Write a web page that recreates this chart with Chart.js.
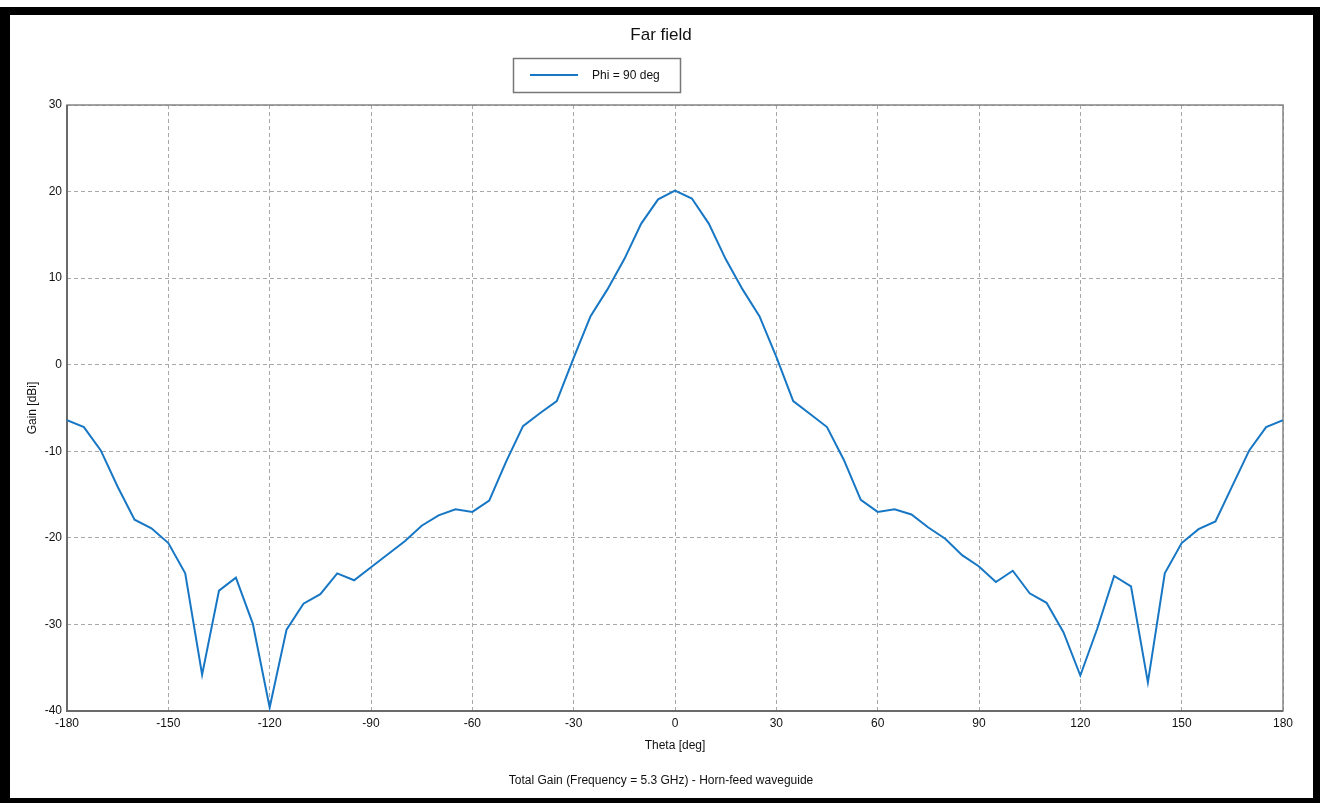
<!DOCTYPE html>
<html>
<head>
<meta charset="utf-8">
<title>Far field</title>
<script src="https://cdn.jsdelivr.net/npm/chart.js@4.4.1/dist/chart.umd.min.js"></script>
<style>
    html, body { margin: 0; padding: 0; background: #fff; }
    #wrap { position: relative; width: 1322px; height: 803px; overflow: hidden; }
    #chart { position: absolute; left: 0; top: 0; }
    #frame {
        position: absolute; left: 0; top: 7px; width: 1303px; height: 783px;
        border-left: 10px solid #000; border-top: 8px solid #000;
        border-right: 7px solid #000; border-bottom: 5px solid #000;
        pointer-events: none;
    }
</style>
</head>
<body>
<div id="wrap">
    <canvas id="chart" width="1322" height="803"></canvas>
    <div id="frame"></div>
</div>
<script>
// Theta [deg]
const theta = [
    -180, -175, -170, -165, -160, -155, -150, -145, -140, -135, -130, -125,
    -120, -115, -110, -105, -100, -95, -90, -85, -80, -75, -70, -65,
    -60, -55, -50, -45, -40, -35, -30, -25, -20, -15, -10, -5,
    0, 5, 10, 15, 20, 25, 30, 35, 40, 45, 50, 55,
    60, 65, 70, 75, 80, 85, 90, 95, 100, 105, 110, 115,
    120, 125, 130, 135, 140, 145, 150, 155, 160, 165, 170, 175,
    180
];

// Gain [dBi], phi = 90 deg
const gainPhi90 = [
    -6.4, -7.2, -9.9, -14.1, -17.9, -18.9, -20.6, -24.1, -35.8, -26.1, -24.6, -29.9,
    -39.6, -30.6, -27.6, -26.5, -24.1, -24.9, -23.4, -21.9, -20.4, -18.6, -17.4, -16.7,
    -17.0, -15.7, -11.2, -7.1, -5.6, -4.2, 0.8, 5.6, 8.7, 12.2, 16.3, 19.1,
    20.1, 19.2, 16.3, 12.2, 8.7, 5.6, 0.9, -4.2, -5.7, -7.2, -11.0, -15.6,
    -17.0, -16.7, -17.3, -18.8, -20.1, -22.0, -23.3, -25.1, -23.8, -26.4, -27.5, -30.9,
    -35.9, -30.5, -24.4, -25.6, -36.7, -24.1, -20.6, -19.0, -18.1, -14.0, -9.9, -7.2,
    -6.4
];

const xTicks = [-180, -150, -120, -90, -60, -30, 0, 30, 60, 90, 120, 150, 180];
const yTicks = [-40, -30, -20, -10, 0, 10, 20, 30];

const chartTitle = 'Far field';
const seriesLabel = 'Phi = 90 deg';
const xTitle = 'Theta [deg]';
const yTitle = 'Gain [dBi]';
const footerText = 'Total Gain (Frequency = 5.3 GHz) - Horn-feed waveguide';

const FONT = '"Liberation Sans", Arial, sans-serif';
const LINE_COLOR = '#1777c4';

// title, boxed legend, footer and the plot frame
const decorations = {
    id: 'decorations',
    beforeDatasetsDraw(chart) {
        const { ctx, chartArea: a } = chart;
        ctx.save();
        ctx.strokeStyle = '#858585';
        ctx.lineWidth = 1.5;
        ctx.strokeRect(a.left, a.top, a.right - a.left, a.bottom - a.top);
        ctx.strokeStyle = '#6a6a6a';
        ctx.lineWidth = 2;
        ctx.beginPath();
        ctx.moveTo(a.left, a.top);
        ctx.lineTo(a.left, a.bottom);
        ctx.lineTo(a.right, a.bottom);
        ctx.stroke();
        ctx.restore();
    },
    afterDraw(chart) {
        const { ctx } = chart;
        ctx.save();
        ctx.fillStyle = '#111';
        ctx.textAlign = 'center';
        ctx.textBaseline = 'middle';
        ctx.font = '17px ' + FONT;
        ctx.fillText(chartTitle, 661, 35);

        // legend box
        ctx.strokeStyle = '#777';
        ctx.lineWidth = 1.5;
        ctx.fillStyle = '#fff';
        ctx.fillRect(513.5, 58.5, 167, 34);
        ctx.strokeRect(513.5, 58.5, 167, 34);
        ctx.strokeStyle = LINE_COLOR;
        ctx.lineWidth = 2;
        ctx.beginPath();
        ctx.moveTo(530, 75);
        ctx.lineTo(578, 75);
        ctx.stroke();
        ctx.fillStyle = '#111';
        ctx.textAlign = 'left';
        ctx.font = '12px ' + FONT;
        ctx.fillText(chart.data.datasets[0].label, 592, 76);

        ctx.textAlign = 'center';
        ctx.fillText(footerText, 661, 781);
        ctx.restore();
    }
};

new Chart(document.getElementById('chart'), {
    type: 'line',
    data: {
        datasets: [{
            label: seriesLabel,
            data: theta.map((t, i) => ({ x: t, y: gainPhi90[i] })),
            borderColor: LINE_COLOR,
            borderWidth: 2,
            pointRadius: 0,
            tension: 0,
            fill: false
        }]
    },
    options: {
        responsive: false,
        animation: false,
        events: [],
        layout: { padding: { left: 0, top: 105, right: 39, bottom: 0 } },
        plugins: {
            legend: { display: false },
            title: { display: false },
            tooltip: { enabled: false }
        },
        scales: {
            x: {
                type: 'linear',
                min: -180,
                max: 180,
                afterBuildTicks: s => { s.ticks = xTicks.map(v => ({ value: v })); },
                afterFit: s => { s.height = 92; },
                grid: { color: '#a8a8a8', drawTicks: false },
                border: { display: false, dash: [4, 3] },
                ticks: { padding: 5, color: '#111', font: { size: 12, family: FONT }, maxRotation: 0 },
                title: { display: true, text: xTitle, color: '#111', font: { size: 12, family: FONT }, padding: { top: 0, bottom: 50 } }
            },
            y: {
                min: -40,
                max: 30,
                afterBuildTicks: s => { s.ticks = yTicks.map(v => ({ value: v })); },
                afterFit: s => { s.width = 67; },
                grid: { color: '#a8a8a8', drawTicks: false },
                border: { display: false, dash: [4, 3] },
                ticks: { padding: 5, color: '#111', font: { size: 12, family: FONT } },
                title: { display: true, text: yTitle, color: '#111', font: { size: 12, family: FONT }, padding: { top: 25, bottom: 0 } }
            }
        }
    },
    plugins: [decorations]
});
</script>
</body>
</html>
